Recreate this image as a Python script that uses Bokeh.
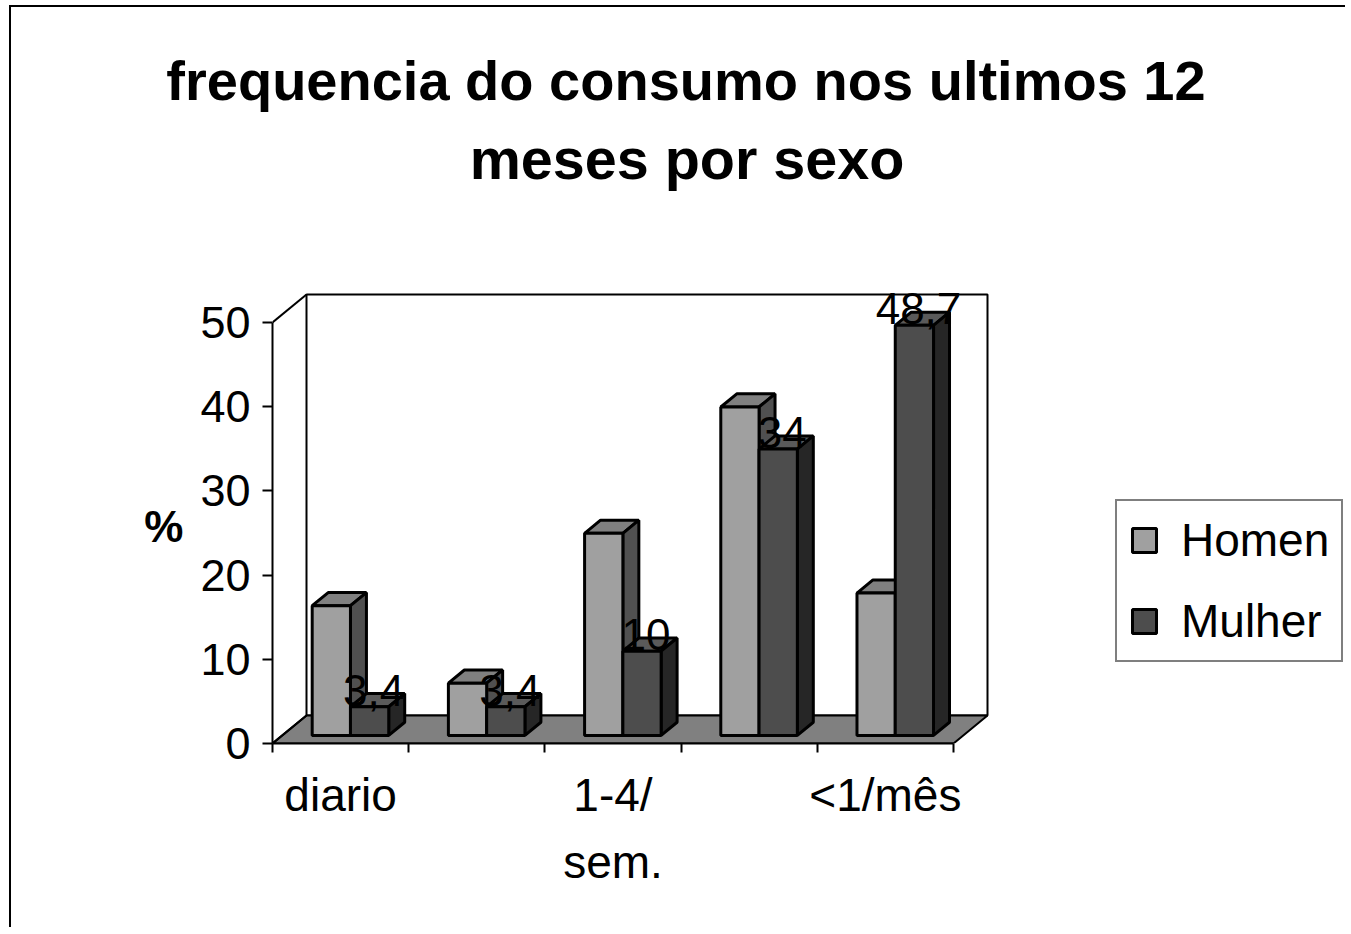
from bokeh.plotting import figure
from bokeh.layouts import column
from bokeh.models import Range1d, FixedTicker, ColumnDataSource, Legend, LegendItem, LinearAxis
from bokeh.core.properties import value
from bokeh.embed import file_html
from bokeh.resources import INLINE

# ---------------- data ----------------
categories = ["diario", "", "1-4/\nsem.", "", "<1/mês"]
homen = [15.4, 6.2, 24.0, 39.0, 16.9]
mulher = [3.4, 3.4, 10.0, 34.0, 48.7]
mulher_labels = ["3,4", "3,4", "10", "34", "48,7"]
series_names = ["Homen", "Mulher"]
y_ticks = [0, 10, 20, 30, 40, 50]
title_lines = ["frequencia do consumo nos ultimos 12", "meses por sexo"]
y_label = "%"

# ---------------- geometry / style ----------------
FONT = "Liberation Sans"
PX_X = 136.2          # pixels per category
PX_Y = 8.42           # pixels per percent
DX = 34 / PX_X        # full depth shift in x (data units)
DY = 28 / PX_Y        # full depth shift in y (data units)
D0, D1 = 0.29, 0.76   # bar depth (front/back fraction)
BW = 0.281            # bar width (data units)
N = len(categories)
YMAX = y_ticks[-1]

OX, OY = 11, 7                      # page offset of the layout
FIG_W, TOTAL_H = 1336, 922
TITLE_H = 200
MAIN_H = TOTAL_H - TITLE_H
MAIN_Y0 = OY + TITLE_H              # page y of main figure top
MB_LEFT = 272 - OX
FRAME_TOP = 250 - MAIN_Y0
FRAME_BOTTOM = 743 - MAIN_Y0
FRAME_W, FRAME_H = FIG_W - MB_LEFT, FRAME_BOTTOM - FRAME_TOP

# ---------------- title figure ----------------
t = figure(width=FIG_W, height=TITLE_H, x_range=Range1d(0, FIG_W), y_range=Range1d(0, TITLE_H),
           output_backend="svg", toolbar_location=None, x_axis_type=None, y_axis_type=None,
           min_border=0)
t.frame_align = False
t.outline_line_color = None
t.background_fill_color = "white"
t.border_fill_color = "white"
title_src = ColumnDataSource(dict(
    x=[685.5 - OX, 686.5 - OX],
    y=[TITLE_H - (100 - OY) + 20, TITLE_H - (178 - OY) + 20],
    text=title_lines,
    size=["56px", "57.5px"]))
t.text(x="x", y="y", text="text", source=title_src, text_font_size="size",
       text_font=value(FONT), text_font_style="bold",
       text_align="center", text_baseline="alphabetic", text_color="black")

# ---------------- main figure ----------------
p = figure(width=FIG_W, height=MAIN_H,
           x_range=Range1d(0, FRAME_W / PX_X), y_range=Range1d(0, FRAME_H / PX_Y),
           output_backend="svg", toolbar_location=None,
           x_axis_type=None, y_axis_type=None,
           min_border_left=MB_LEFT, min_border_right=0, min_border_top=FRAME_TOP,
           min_border_bottom=MAIN_H - FRAME_BOTTOM)
p.frame_align = False
p.outline_line_color = None
p.background_fill_color = "white"
p.border_fill_color = "white"

# walls & floor
p.patch([DX, N + DX, N + DX, DX], [DY, DY, YMAX + DY, YMAX + DY],
        fill_color="white", line_color="black", line_width=2)
p.patch([0, N, N + DX, DX], [0, 0, DY, DY],
        fill_color="#808080", line_color="black", line_width=2)
p.line([0, DX], [YMAX, YMAX + DY], line_color="black", line_width=2)
p.line([0, DX], [0, DY], line_color="black", line_width=2)

# bars
ddx = (D1 - D0) * DX
ddy = (D1 - D0) * DY
base = D0 * DY


def bar_sources(vals, offset):
    lefts, rights, tops = [], [], []
    tx, ty, sx, sy = [], [], [], []
    for i, v in enumerate(vals):
        xc = i + 0.5 + D0 * DX
        l = xc + offset
        r = l + BW
        tp = base + v
        lefts.append(l); rights.append(r); tops.append(tp)
        tx.append([l, r, r + ddx, l + ddx]); ty.append([tp, tp, tp + ddy, tp + ddy])
        sx.append([r, r, r + ddx, r + ddx]); sy.append([base, tp, tp + ddy, base + ddy])
    front = ColumnDataSource(dict(left=lefts, right=rights, top=tops, bottom=[base] * len(vals)))
    top = ColumnDataSource(dict(xs=tx, ys=ty))
    side = ColumnDataSource(dict(xs=sx, ys=sy))
    return front, top, side


hf, ht, hs = bar_sources(homen, -BW)
mf, mt, ms = bar_sources(mulher, 0.0)

p.patches("xs", "ys", source=ht, fill_color="#808080", line_color="black", line_width=3)
p.patches("xs", "ys", source=hs, fill_color="#505050", line_color="black", line_width=3)
r_h = p.quad(left="left", right="right", top="top", bottom="bottom", source=hf,
             fill_color="#A0A0A0", line_color="black", line_width=3)
p.patches("xs", "ys", source=mt, fill_color="#5A5A5A", line_color="black", line_width=3)
p.patches("xs", "ys", source=ms, fill_color="#262626", line_color="black", line_width=3)
r_m = p.quad(left="left", right="right", top="top", bottom="bottom", source=mf,
             fill_color="#4D4D4D", line_color="black", line_width=3)

# data labels
lab_x = [i + 0.5 + D0 * DX + BW / 2 + 0.03 for i in range(N)]
lab_y = [base + v + 0.2 + 15 / PX_Y for v in mulher]
p.text(x=lab_x, y=lab_y, text=mulher_labels, text_font=value(FONT), text_font_size="44px",
       text_align="center", text_baseline="alphabetic", text_color="black")

# axes
yax = LinearAxis(ticker=FixedTicker(ticks=y_ticks), bounds=(0, YMAX))
yax.axis_line_width = 2
yax.major_tick_line_width = 2
yax.major_tick_out = 10
yax.major_tick_in = 0
yax.minor_tick_line_color = None
yax.major_label_standoff = 12
yax.major_label_text_font = FONT
yax.major_label_text_font_size = "45px"
yax.major_label_text_color = "black"
yax.axis_label = "\n" + y_label
yax.axis_label_orientation = "horizontal"
yax.axis_label_text_font = FONT
yax.axis_label_text_font_size = "44px"
yax.axis_label_text_font_style = "bold"
yax.axis_label_text_color = "black"
yax.axis_label_text_line_height = 1.2
yax.axis_label_standoff = 14
p.add_layout(yax, "left")

xax = LinearAxis(ticker=FixedTicker(ticks=[i + 0.5 for i in range(N)],
                                    minor_ticks=list(range(N + 1))),
                 bounds=(0, N))
xax.major_label_overrides = {i + 0.5: c for i, c in enumerate(categories)}
xax.axis_line_width = 2
xax.major_tick_line_color = None
xax.major_tick_out = 0
xax.major_tick_in = 0
xax.minor_tick_line_width = 2
xax.minor_tick_out = 9
xax.minor_tick_in = 0
xax.minor_tick_line_color = "black"
xax.major_label_standoff = 16
xax.major_label_text_font = FONT
xax.major_label_text_font_size = "46px"
xax.major_label_text_line_height = 1.3
xax.major_label_text_color = "black"
p.add_layout(xax, "below")

# legend
legend = Legend(items=[LegendItem(label=series_names[0], renderers=[r_h]),
                       LegendItem(label=series_names[1], renderers=[r_m])],
                location=(1115 - 272, 743 - 662))
legend.border_line_color = "black"
legend.border_line_width = 2
legend.background_fill_color = "white"
legend.background_fill_alpha = 1
legend.label_text_font = FONT
legend.label_text_font_size = "46px"
legend.label_text_color = "black"
legend.glyph_width = 30
legend.glyph_height = 30
legend.label_height = 54
legend.label_standoff = 22
legend.padding = 12
legend.spacing = 27
legend.margin = 0
p.add_layout(legend, "center")

layout = column(t, p, spacing=0)
layout.styles = {"margin-top": f"{OY}px", "margin-left": f"{OX}px",
                 "box-shadow": "-2px -2px 0 0 black"}

open("out.html", "w").write(file_html(layout, INLINE))
